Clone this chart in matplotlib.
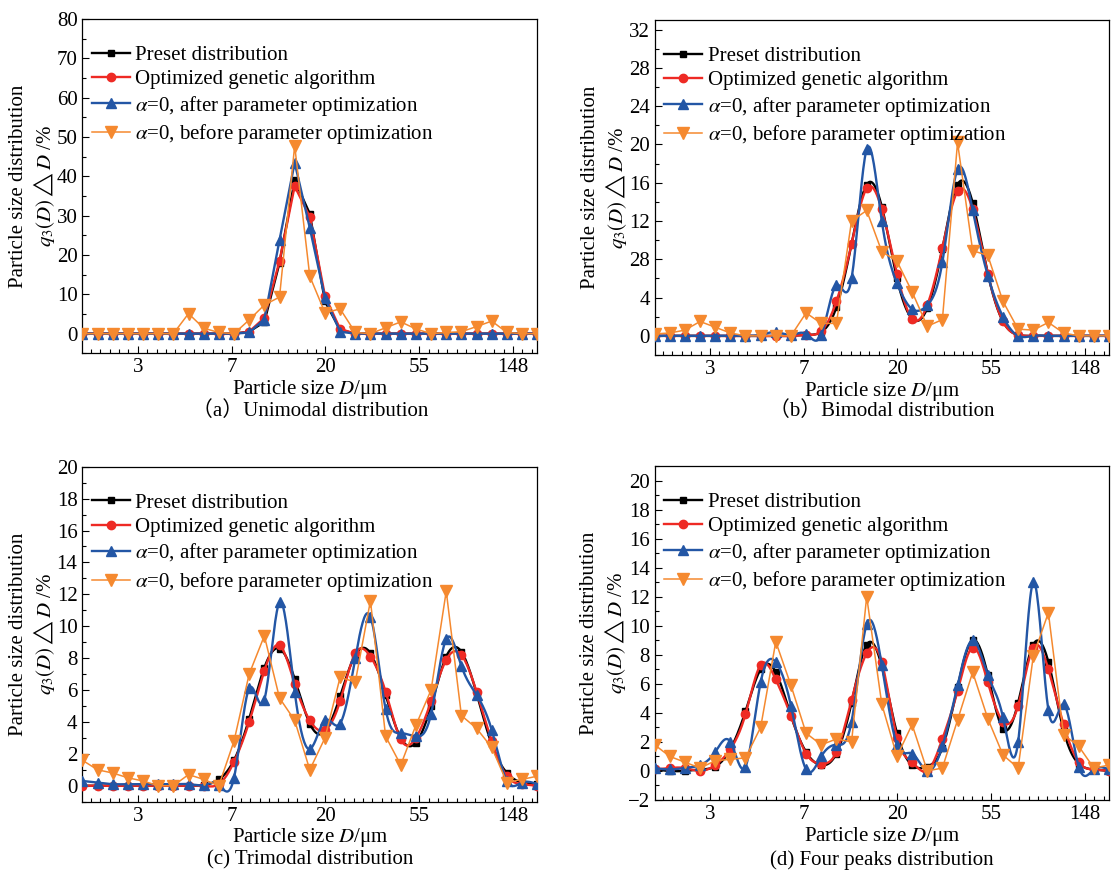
import numpy as np
import matplotlib
matplotlib.use("Agg")
import matplotlib.pyplot as plt
from matplotlib.ticker import FixedLocator, FuncFormatter, MultipleLocator
from matplotlib.lines import Line2D


# # # # # data # # # # #

# particle size classes (um), log spaced
D = [1.507, 1.771, 2.082, 2.447, 2.876, 3.380, 3.973, 4.670, 5.489, 6.452,
     7.584, 8.914, 10.48, 12.32, 14.48, 17.01, 20.00, 23.50, 27.63, 32.47,
     38.17, 44.86, 52.73, 61.98, 72.85, 85.63, 100.6, 118.3, 139.1, 163.4, 192.1]

# (a) unimodal
a_preset = [0, 0, 0, 0, 0, 0, 0, 0, 0, 0, 0, 0.5, 3.0, 18.0, 39.0, 30.5, 8.2, 1.0,
            0, 0, 0, 0, 0, 0, 0, 0, 0, 0, 0, 0, 0]
a_genetic = [0, 0, 0, 0, 0, 0, 0, 0, 0, 0, 0, 0.5, 4.0, 18.5, 37.5, 29.7, 9.6, 1.2,
             0, 0, 0, 0, 0, 0, 0, 0, 0, 0, 0, 0, 0]
a_after = [0, 0, 0, 0, 0, 0, 0, 0, 0, 0, 0, 0.3, 3.6, 23.8, 43.5, 26.9, 9.1, 0.5,
           0, 0, 0, 0, 0, 0, 0, 0, 0, 0, 0, 0, 0]
a_before = [0, 0, 0, 0, 0, 0, 0, 5.1, 1.4, 0.3, 0, 3.5, 7.3, 9.3, 47.8, 14.6, 5.3, 6.3,
            0.3, 0, 1.5, 3.0, 1.2, 0, 0.3, 0.5, 1.8, 3.2, 0.3, 0, 0]

# (b) bimodal
b_preset = [0, 0, 0, 0, 0, 0, 0, 0, 0, 0, 0.1, 0.4, 3.0, 9.6, 15.8, 13.5, 6.0, 1.8,
            2.9, 9.1, 15.8, 13.9, 6.5, 1.5, 0.1, 0, 0, 0, 0, 0, 0]
b_genetic = [0, 0, 0, 0, 0, 0, 0, 0, 0, 0, 0.1, 0.5, 3.6, 9.6, 15.4, 13.2, 6.5, 1.8,
             3.2, 9.2, 15.1, 13.2, 6.5, 1.5, 0.1, 0, 0, 0, 0, 0, 0]
b_after = [0, 0, 0, 0, 0, 0, 0, 0.1, 0.4, 0.1, 0.2, 0.1, 5.3, 6.0, 19.5, 12.0, 5.5, 2.8,
           3.2, 7.7, 17.4, 13.1, 6.3, 2.0, 0, 0, 0, 0, 0, 0, 0]
b_before = [0.2, 0.3, 0.6, 1.5, 0.9, 0.3, 0, 0, 0, 0, 2.4, 1.3, 1.3, 12.0, 13.1, 8.8, 7.8, 4.6,
            1.0, 1.7, 20.2, 8.9, 8.4, 3.6, 0.7, 0.6, 1.4, 0.3, 0, 0, 0]

# (c) trimodal
c_preset = [0, 0, 0, 0, 0, 0, 0, 0, 0.05, 0.4, 1.6, 4.2, 7.4, 8.6, 6.7, 3.9, 3.4, 5.6,
            8.2, 8.3, 5.7, 3.0, 2.7, 5.0, 8.1, 8.4, 5.8, 2.6, 0.8, 0.2, 0.1]
c_genetic = [0, 0, 0, 0, 0, 0, 0, 0, 0, 0.1, 1.5, 4.0, 7.2, 8.8, 6.4, 4.1, 3.5, 5.3,
             8.3, 8.1, 5.9, 2.9, 3.0, 5.3, 7.9, 8.2, 5.9, 2.8, 0.6, 0.1, 0]
c_after = [0.3, 0.2, 0.1, 0.1, 0.1, 0.1, 0.1, 0.1, 0.05, 0.05, 0.5, 6.1, 5.4, 11.5, 5.9, 2.3, 4.1, 3.9,
           8.0, 10.6, 4.8, 3.3, 3.1, 4.5, 9.2, 7.5, 5.7, 3.5, 0.3, 0.2, 0.1]
c_before = [1.6, 1.0, 0.8, 0.5, 0.3, 0, 0, 0.7, 0.4, 0, 2.8, 7.0, 9.4, 5.5, 4.1, 1.0, 3.0, 6.8,
            6.5, 11.6, 3.1, 1.3, 3.8, 6.0, 12.2, 4.4, 3.6, 2.4, 0.2, 0.4, 0.6]

# (d) four peaks
d_preset = [0.1, 0, 0, 0.1, 0.3, 1.5, 4.1, 7.0, 6.8, 3.8, 1.3, 0.4, 1.2, 4.7, 8.7, 7.2, 2.6, 0.4,
            0.3, 1.6, 5.8, 9.0, 6.6, 2.9, 4.7, 8.7, 7.5, 2.8, 0.5, 0.1, 0]
d_genetic = [0.1, 0.2, 0.2, 0, 0.4, 1.5, 3.9, 7.3, 6.3, 3.8, 1.2, 0.5, 1.3, 4.9, 8.1, 7.5, 2.3, 0.6,
             0, 2.2, 5.5, 8.5, 6.1, 3.4, 4.5, 8.5, 7.0, 3.2, 0.6, 0.1, 0]
d_after = [0.2, 0.1, 0.2, 0.4, 1.3, 2.0, 0.3, 6.1, 7.5, 4.5, 0.1, 1.0, 1.8, 3.4, 10.1, 7.3, 1.8, 1.2,
           0, 1.7, 5.9, 9.0, 6.6, 3.7, 2.0, 13.0, 4.2, 4.6, 0.3, 0.1, 0.1]
d_before = [1.8, 1.0, 0.6, 0.2, 0.7, 0.8, 0.9, 3.0, 8.9, 5.9, 2.6, 1.8, 2.2, 2.0, 12.0, 4.6, 1.0, 3.2,
            0, 0.2, 3.5, 6.8, 3.6, 1.1, 0.2, 7.9, 10.9, 2.5, 1.7, 0.2, 0.4]

labels = ["Preset distribution", "Optimized genetic algorithm",
          r"$\alpha$=0, after parameter optimization", r"$\alpha$=0, before parameter optimization"]
captions = ["\uff08a\uff09Unimodal distribution", "\uff08b\uff09Bimodal distribution",
            "(c) Trimodal distribution", "(d) Four peaks distribution"]
ytick_labels_b = ["0", "4", "28", "12", "16", "20", "24", "28", "32"]


# # # # # style # # # # #

plt.rcParams["font.family"] = ["Liberation Serif", "Noto Sans CJK SC"]
plt.rcParams["mathtext.fontset"] = "stix"
plt.rcParams["font.size"] = 15

FS = 15
COLORS = ["#000000", "#ee2a24", "#2356a5", "#f5892f"]
MARKERS = ["s", "o", "^", "v"]
MSIZE = [5.0, 6.0, 7.0, 8.0]
LWIDTH = [1.7, 1.7, 1.7, 1.1]


# # # # # helper functions # # # # #

def spline(x, y, n=600):
	"""natural cubic spline through points, evaluated in ln(x) space"""
	t = np.log(np.asarray(x, float))
	y = np.asarray(y, float)
	h = np.diff(t)
	N = len(t)
	A = np.zeros((N, N))
	r = np.zeros(N)
	A[0, 0] = A[-1, -1] = 1
	for i in range(1, N - 1):
		A[i, i - 1] = h[i - 1]
		A[i, i] = 2 * (h[i - 1] + h[i])
		A[i, i + 1] = h[i]
		r[i] = 6 * ((y[i + 1] - y[i]) / h[i] - (y[i] - y[i - 1]) / h[i - 1])
	M = np.linalg.solve(A, r)
	tt = np.linspace(t[0], t[-1], n)
	k = np.clip(np.searchsorted(t, tt) - 1, 0, N - 2)
	hk = h[k]
	a = (t[k + 1] - tt) / hk
	b = (tt - t[k]) / hk
	yy = a * y[k] + b * y[k + 1] + ((a ** 3 - a) * M[k] + (b ** 3 - b) * M[k + 1]) * hk ** 2 / 6
	return np.exp(tt), yy


def draw_panel(ax, series, smooth, ylim, ystep, caption, cap_y, yticklabels=None):
	for j, y in enumerate(series):
		if smooth and j < 3:
			xs, ys = spline(D, y)
			ax.plot(xs, ys, color=COLORS[j], lw=LWIDTH[j], zorder=2 + j)
			ax.plot(D, y, ls="none", marker=MARKERS[j], ms=MSIZE[j], color=COLORS[j], zorder=2 + j)
		else:
			ax.plot(D, y, color=COLORS[j], lw=LWIDTH[j], marker=MARKERS[j], ms=MSIZE[j], zorder=2 + j)

	# x axis (log scale, ticks at e^1..e^5)
	ax.set_xscale("log")
	ax.set_xlim(D[0], D[-1])
	ax.xaxis.set_major_locator(FixedLocator(np.exp(np.arange(1, 6))))
	ax.xaxis.set_major_formatter(FuncFormatter(lambda v, p: "%.0f" % v))
	ax.xaxis.set_minor_locator(FixedLocator(np.exp(np.arange(0.4, 5.3, 0.1))))
	ax.xaxis.set_minor_formatter(FuncFormatter(lambda v, p: ""))

	# y axis
	ax.yaxis.set_major_locator(MultipleLocator(ystep))
	ax.yaxis.set_minor_locator(MultipleLocator(ystep / 2))
	if yticklabels is not None:
		ax.set_yticks(np.arange(0, ylim[1] + 0.1, ystep))
		ax.set_yticklabels(yticklabels)
	ax.set_ylim(*ylim)

	ax.tick_params(which="both", direction="in", top=False, right=False, labelsize=FS, pad=3.5)
	ax.tick_params(which="major", length=5, width=0.8)
	ax.tick_params(which="minor", length=3, width=0.8)
	for s in ax.spines.values():
		s.set_linewidth(0.9)

	ax.set_xlabel(r"Particle size $D$/μm", fontsize=FS, labelpad=0.5)
	ax.set_ylabel("Particle size distribution\n" + r"$q_3(D)\triangle D$ /%", fontsize=FS,
		labelpad=0, linespacing=1.12)

	# legend
	handles = [Line2D([], [], color=COLORS[j], lw=LWIDTH[j], marker=MARKERS[j], ms=MSIZE[j])
		for j in range(4)]
	ax.legend(handles, labels, loc="upper left", bbox_to_anchor=(0.002, 0.946), frameon=False,
		handlelength=1.85, handletextpad=0.25, labelspacing=0.22, borderaxespad=0, fontsize=FS)

	# caption below the axis label
	pos = ax.get_position()
	ax.figure.text((pos.x0 + pos.x1) / 2, 1 - cap_y / 872, caption, ha="center", va="center", fontsize=FS)


# # # # # main figure # # # # #

fig = plt.figure(figsize=(11.12, 8.72), dpi=100)

ax_a = fig.add_axes([0.0741, 0.5948, 0.4090, 0.3834])
ax_b = fig.add_axes([0.5887, 0.5929, 0.4086, 0.3842])
ax_c = fig.add_axes([0.0741, 0.0806, 0.4090, 0.3842])
ax_d = fig.add_axes([0.5887, 0.0826, 0.4086, 0.3830])

draw_panel(ax_a, [a_preset, a_genetic, a_after, a_before], False, (-5, 80), 10, captions[0], 411)
draw_panel(ax_b, [b_preset, b_genetic, b_after, b_before], True, (-2, 33), 4, captions[1], 411,
	yticklabels=ytick_labels_b)
draw_panel(ax_c, [c_preset, c_genetic, c_after, c_before], True, (-1, 20), 2, captions[2], 860)
draw_panel(ax_d, [d_preset, d_genetic, d_after, d_before], True, (-2, 21), 2, captions[3], 860)

fig.savefig("out.png", dpi=100)
